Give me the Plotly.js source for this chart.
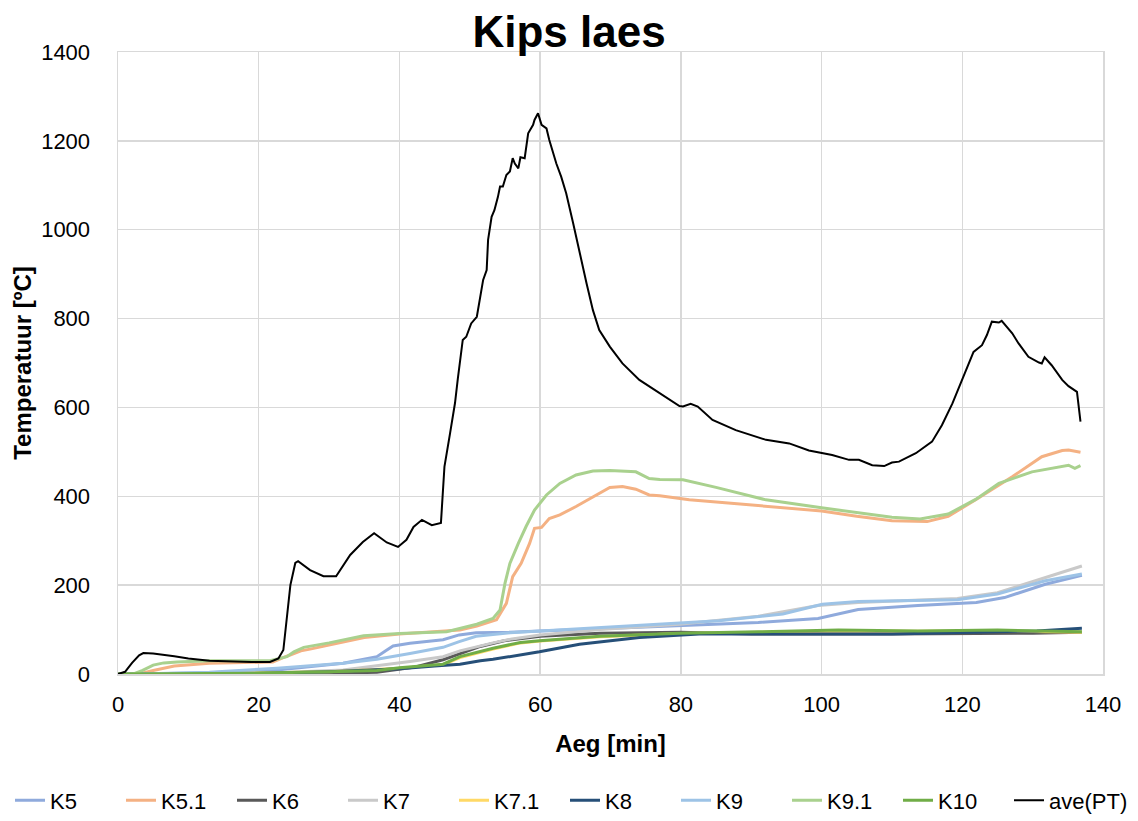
<!DOCTYPE html>
<html>
<head>
<meta charset="utf-8">
<script src="https://cdn.plot.ly/plotly-3.0.1.min.js"></script>
<style>
  html, body { margin: 0; padding: 0; background: #ffffff; }
  #chart { width: 1138px; height: 821px; }
</style>
</head>
<body>
<div id="chart"></div>
<script>
// Temperature readings (°C) over time (min) for each thermocouple.
const t_K5 = [0, 3, 13, 22.6, 32, 35, 36.8, 38, 39.1, 41.5, 44, 46.2, 48.5, 50.9, 55.7, 60, 74, 85.4, 91, 99.5, 102.4, 105.2, 113.7, 122, 126, 131.8, 137];
const y_K5 = [0, 0, 3, 9, 24, 33, 39, 52, 63, 69, 73, 77, 88, 93, 94, 97, 105, 112, 116, 125, 135, 145, 154, 161, 172, 202, 222];

const t_K51 = [0, 3, 5, 8, 13, 18, 22, 24, 26, 27.3, 30, 35, 40, 46.7, 48.6, 51, 53.8, 55.2, 56.1, 57.3, 58.5, 59.2, 60.2, 61.3, 62.8, 65.1, 67.5, 69.9, 71.7, 73.6, 75.5, 77, 81.2, 90, 96.8, 100, 105, 110, 115, 118, 121.9, 127.1, 131.3, 134.2, 135.1, 136.8];
const y_K51 = [0, 0, 8, 18, 24, 25, 27, 40, 52, 56, 65, 82, 90, 96, 99, 108, 122, 159, 219, 249, 294, 328, 330, 350, 358, 377, 399, 420, 422, 416, 403, 401, 392, 380, 372, 367, 355, 345, 343, 355, 392, 444, 489, 503, 504, 499];

const t_K6 = [0, 20, 30, 36.8, 42, 46.2, 48.6, 51.5, 54.9, 60, 68.5, 80, 90, 110, 130, 137];
const y_K6 = [0, 0, 1, 4, 15, 32, 46, 62, 75, 85, 92, 94, 90, 90, 92, 94];

const t_K7 = [0, 10, 22.6, 32, 41.5, 46.2, 48.6, 51, 53.3, 56, 60, 68.5, 79.8, 91, 99.5, 105.2, 119.3, 125, 131.8, 137];
const y_K7 = [0, 0, 3, 9, 28, 39, 52, 62, 70, 79, 88, 100, 112, 130, 154, 161, 170, 183, 217, 243];

// K7.1 runs along K10 and is covered by it
const t_K71 = [0, 20, 30, 40, 46.2, 48.6, 53.3, 57.2, 60, 68.5, 80, 91, 102.4, 113.7, 125, 137];
const y_K71 = [0, 2, 5, 13, 21, 37, 56, 70, 74, 84, 91, 94, 97, 96, 97, 94];

const t_K8 = [0, 20, 30, 40, 45, 48.6, 51.5, 53.3, 59.9, 65.6, 74.1, 82.6, 91, 110, 130.6, 137];
const y_K8 = [0, 1, 5, 12, 18, 22, 30, 33, 50, 67, 82, 90, 90, 90, 97, 103];

const t_K9 = [0, 3, 13, 22.6, 32, 36.8, 41.5, 46.2, 48.5, 50.9, 55.7, 60, 74, 85.4, 94.5, 100.1, 105.2, 119.3, 125, 131.8, 137];
const y_K9 = [0, 0, 4, 13, 24, 33, 46, 60, 73, 85, 93, 97, 109, 120, 135, 157, 163, 167, 180, 210, 225];

const t_K91 = [0, 2.2, 3.5, 5, 6.5, 8.4, 13, 17, 21.6, 24, 25, 26.4, 30, 34.9, 40, 46.7, 48.6, 51, 53.3, 54.3, 55, 55.7, 56.9, 58, 59.2, 60.9, 62.8, 65.1, 67.5, 69.9, 73.6, 75.5, 77, 80.3, 85, 92.1, 100, 110, 114, 118, 121.9, 125.2, 129.9, 133.7, 135.1, 136, 136.8];
const y_K91 = [0, 0, 8, 20, 25, 27, 30, 30, 30, 39, 50, 60, 70, 86, 91, 95, 103, 112, 125, 144, 204, 249, 294, 332, 369, 403, 429, 448, 457, 458, 455, 440, 438, 437, 420, 392, 374, 353, 349, 360, 393, 429, 455, 467, 470, 463, 469];

const t_K10 = [0, 20, 30, 36.8, 40, 46.2, 48.6, 53.3, 57.2, 59.9, 68.5, 79.8, 91, 102.4, 113.7, 125, 137];
const y_K10 = [0, 2, 5, 8, 14, 22, 39, 58, 71, 75, 85, 92, 95, 99, 97, 99, 95];

const t_ave = [0, 1, 2, 3, 3.6, 5, 8, 10, 13, 16, 19, 21.6, 22.8, 23.5, 24, 24.5, 25.2, 25.6, 27.3, 29.2, 31, 33, 34.8, 36.4, 38.2, 39.8, 41, 42, 43.2, 44.6, 45.9, 46.4, 47.2, 47.9, 48.3, 49, 49.5, 50.2, 51, 51.9, 52.4, 52.6, 53.1, 53.5, 54, 54.3, 54.7, 55.2, 55.7, 56.1, 56.4, 56.9, 57.2, 57.8, 58.3, 59, 59.2, 59.7, 60.2, 60.9, 61.3, 61.8, 62.3, 63, 63.7, 64.7, 65.6, 66.6, 67.5, 68.4, 69.9, 71.7, 74.1, 77, 79.8, 80.3, 81.4, 82.4, 84.5, 87.8, 92.1, 95.4, 98.2, 101.5, 103.9, 105.3, 107.2, 108.9, 110, 111, 113.4, 115.7, 117.1, 118.6, 120, 121.6, 122.8, 123.5, 124.2, 125.2, 125.6, 127.1, 128, 129.4, 130.9, 131.3, 131.7, 132.7, 134.2, 135.1, 136.3, 136.8];
const y_ave = [0, 5, 25, 42, 47, 46, 40, 35, 30, 28, 27, 27, 35, 54, 120, 200, 250, 254, 234, 220, 220, 268, 297, 317, 296, 286, 302, 331, 347, 335, 340, 467, 542, 610, 665, 752, 759, 789, 804, 887, 909, 977, 1029, 1044, 1074, 1097, 1097, 1123, 1131, 1161, 1149, 1138, 1163, 1161, 1217, 1236, 1247, 1262, 1236, 1228, 1202, 1175, 1149, 1119, 1082, 1014, 947, 879, 819, 774, 737, 699, 662, 632, 603, 602, 608, 602, 572, 549, 527, 519, 503, 493, 482, 482, 470, 468, 476, 478, 497, 523, 560, 609, 662, 725, 740, 763, 793, 791, 795, 767, 744, 714, 701, 699, 713, 695, 662, 648, 635, 568];

const seriesNames = ['K5', 'K5.1', 'K6', 'K7', 'K7.1', 'K8', 'K9', 'K9.1', 'K10', 'ave(PT)'];
const seriesX = [t_K5, t_K51, t_K6, t_K7, t_K71, t_K8, t_K9, t_K91, t_K10, t_ave];
const seriesY = [y_K5, y_K51, y_K6, y_K7, y_K71, y_K8, y_K9, y_K91, y_K10, y_ave];
const seriesColors = ['#8FAADC', '#F4B183', '#595959', '#C9C9C9', '#FFD966', '#264F78', '#9DC3E6', '#A9D18E', '#70AD47', '#000000'];
const seriesWidths = [3, 3, 3, 3, 3, 3, 3, 3, 3, 2];

const xTicks = [0, 20, 40, 60, 80, 100, 120, 140];
const yTicks = [0, 200, 400, 600, 800, 1000, 1200, 1400];

const FONT = 'Liberation Sans, Arial, sans-serif';

// The key row is split over three legend boxes so that it can span the full width
// with evenly spaced entries; the last entry gets a box of its own so its label is not clipped.
function legendFor(i) {
  if (i < 5) return 'legend';
  if (i < 9) return 'legend2';
  return 'legend3';
}

const traces = seriesNames.map((name, i) => ({
  type: 'scatter',
  mode: 'lines',
  name: name,
  x: seriesX[i],
  y: seriesY[i],
  line: { color: seriesColors[i], width: seriesWidths[i] },
  legend: legendFor(i),
  hoverinfo: 'x+y+name'
}));

const ENTRY = 111;       // px between successive key entries
const KEY_LEFT = 10;     // px, left edge of the key row

const legendBase = {
  orientation: 'h',
  xanchor: 'left', xref: 'container',
  y: 0.025, yanchor: 'middle', yref: 'container',
  entrywidth: ENTRY - 45,
  font: { family: FONT, size: 22, color: '#000000' },
  bgcolor: 'rgba(0,0,0,0)'
};

const layout = {
  width: 1138,
  height: 821,
  paper_bgcolor: '#ffffff',
  plot_bgcolor: '#ffffff',
  margin: { l: 118, r: 35, t: 52, b: 147 },
  title: {
    text: '<b>Kips laes</b>',
    font: { family: FONT, size: 44, color: '#000000' },
    x: 0.5, xanchor: 'center', xref: 'container',
    y: 0.962, yanchor: 'middle'
  },
  xaxis: {
    range: [0, 140],
    tickvals: xTicks,
    ticktext: xTicks.map(String),
    showgrid: true, gridcolor: '#D9D9D9', gridwidth: 1.5,
    showline: true, linecolor: '#D9D9D9', linewidth: 1.5, mirror: true,
    zeroline: false, ticks: '',
    ticklabelstandoff: 10,
    tickfont: { family: FONT, size: 22, color: '#000000' },
    title: { text: '<b>Aeg [min]</b>', font: { family: FONT, size: 24, color: '#000000' }, standoff: 19 }
  },
  yaxis: {
    range: [0, 1400],
    tickvals: yTicks,
    ticktext: yTicks.map(String),
    showgrid: true, gridcolor: '#D9D9D9', gridwidth: 1.5,
    showline: true, linecolor: '#D9D9D9', linewidth: 1.5, mirror: true,
    zeroline: false, ticks: '',
    ticklabelstandoff: 22,
    tickfont: { family: FONT, size: 22, color: '#000000' },
    title: { text: '<b>Temperatuur [ºC]</b>', font: { family: FONT, size: 24, color: '#000000' }, standoff: 2 }
  },
  legend: Object.assign({}, legendBase, { x: KEY_LEFT / 1138 }),
  legend2: Object.assign({}, legendBase, { x: (KEY_LEFT + 5 * ENTRY) / 1138 }),
  legend3: Object.assign({}, legendBase, { x: (KEY_LEFT + 9 * ENTRY) / 1138, entrywidth: undefined }),
  showlegend: true
};
delete layout.legend3.entrywidth;

Plotly.newPlot('chart', traces, layout, { displayModeBar: false, staticPlot: true });
</script>
</body>
</html>
